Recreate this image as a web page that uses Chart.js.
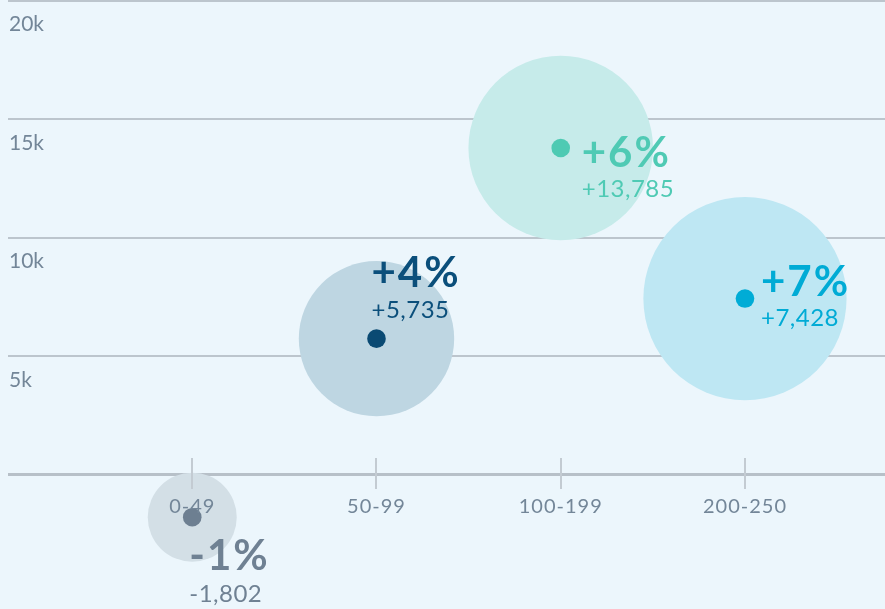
<!DOCTYPE html>
<html>
<head>
<meta charset="utf-8">
<script src="https://cdn.jsdelivr.net/npm/chart.js@4.4.1/dist/chart.umd.min.js"></script>
<style>
  html, body { margin: 0; padding: 0; background: #ecf6fc; }
  #wrap { width: 885px; height: 609px; }
</style>
</head>
<body>
<div id="wrap"><canvas id="c" width="885" height="609"></canvas></div>
<script>
// Household size bands and their change figures
const categories = ['0-49', '50-99', '100-199', '200-250'];
const changeCount = [-1802, 5735, 13785, 7428];
const changePct = [-1, 4, 6, 7];
const bubbleSize = [44.5, 77.7, 92.3, 101.6];

// Value axis
const yTickValues = [0, 5000, 10000, 15000, 20000];
const yTickLabels = ['', '5k', '10k', '15k', '20k'];

// Per-band colours: label text, centre dot, halo
const palette = [
  { text: '#6f8193', dot: '#6d7f91', halo: '#d3dfe6' },
  { text: '#0b4f7b', dot: '#0a4a73', halo: '#bed6e2' },
  { text: '#4fcab4', dot: '#4ecab3', halo: '#c6ebea' },
  { text: '#00abd5', dot: '#00acd6', halo: '#bee7f3' }
];
const DOT_RADIUS = 9.3;

// Where each label block sits relative to its dot (px)
const labelPlacement = [
  { dx: -3,  pctDy: 53,  valDy: 85 },
  { dx: -5,  pctDy: -52, valDy: -20.4 },
  { dx: 21,  pctDy: 18.7, valDy: 49.3 },
  { dx: 16,  pctDy: -2.6, valDy: 27.4 }
];

const FONT = 'Lato, "Open Sans", sans-serif';
const fmtPct = v => (v > 0 ? '+' : '-') + Math.abs(v) + '%';
const fmtCount = v => (v > 0 ? '+' : '-') + Math.abs(v).toLocaleString('en-US');

const haloPoints = categories.map((c, i) => ({ x: i, y: changeCount[i], r: bubbleSize[i] }));
const dotPoints = categories.map((c, i) => ({ x: i, y: changeCount[i], r: DOT_RADIUS }));

const annotate = {
  id: 'annotate',
  afterDatasetsDraw(chart) {
    // category tick marks crossing the zero line
    const { ctx, scales: { x, y } } = chart;
    const y0 = y.getPixelForValue(0);
    ctx.save();
    ctx.strokeStyle = '#c3cbd2';
    ctx.lineWidth = 2;
    categories.forEach((c, i) => {
      const px = Math.round(x.getPixelForValue(i));
      ctx.beginPath();
      ctx.moveTo(px, y0 - 16.5);
      ctx.lineTo(px, y0 + 14.5);
      ctx.stroke();
    });
    ctx.restore();
  },
  afterDraw(chart) {
    const { ctx, scales: { x, y } } = chart;
    const y0 = y.getPixelForValue(0);
    ctx.save();
    ctx.textBaseline = 'alphabetic';

    // value axis labels, just under each gridline
    ctx.font = '400 21px ' + FONT;
    ctx.fillStyle = '#738698';
    ctx.textAlign = 'left';
    yTickValues.forEach((v, i) => {
      if (!yTickLabels[i]) return;
      ctx.fillText(yTickLabels[i], 9, y.getPixelForValue(v) + 30.5);
    });

    // category labels under the zero line
    ctx.font = '400 20px ' + FONT;
    ctx.textAlign = 'center';
    ctx.letterSpacing = '1px';
    categories.forEach((c, i) => {
      ctx.fillText(c, x.getPixelForValue(i), y0 + 39);
    });

    // change labels beside each dot
    ctx.textAlign = 'left';
    categories.forEach((c, i) => {
      const px = x.getPixelForValue(i);
      const py = y.getPixelForValue(changeCount[i]);
      const p = labelPlacement[i];
      ctx.fillStyle = palette[i].text;
      ctx.letterSpacing = '2px';
      ctx.font = '700 42px ' + FONT;
      ctx.fillText(fmtPct(changePct[i]), px + p.dx, py + p.pctDy);
      ctx.letterSpacing = '0.5px';
      ctx.font = '400 24px ' + FONT;
      ctx.fillText(fmtCount(changeCount[i]), px + p.dx, py + p.valDy);
    });
    ctx.restore();
  }
};

new Chart(document.getElementById('c'), {
  type: 'bubble',
  data: {
    datasets: [
      {
        // solid centre dots (listed first so they sit above the halos)
        data: dotPoints,
        backgroundColor: palette.map(p => p.dot),
        borderWidth: 0,
        hoverRadius: 0,
        clip: false
      },
      {
        data: haloPoints,
        backgroundColor: palette.map(p => p.halo),
        borderWidth: 0,
        hoverRadius: 0,
        clip: false
      }
    ]
  },
  options: {
    responsive: false,
    animation: false,
    events: [],
    devicePixelRatio: 1,
    layout: { autoPadding: false, padding: { left: 8, right: 0, top: 0, bottom: 0 } },
    plugins: { legend: { display: false }, tooltip: { enabled: false } },
    scales: {
      x: { type: 'linear', display: false, min: -1, max: 3.76 },
      y: {
        type: 'linear',
        min: -5679,
        max: 20034,
        z: 1,
        afterBuildTicks: scale => { scale.ticks = yTickValues.map(v => ({ value: v })); },
        ticks: { display: false },
        border: { display: false },
        grid: {
          drawTicks: false,
          color: c => (c.tick && c.tick.value === 0 ? '#b7c0c8' : '#bcc5cd'),
          lineWidth: c => (c.tick && c.tick.value === 0 ? 3 : 2)
        }
      }
    }
  },
  plugins: [annotate]
});
</script>
</body>
</html>
